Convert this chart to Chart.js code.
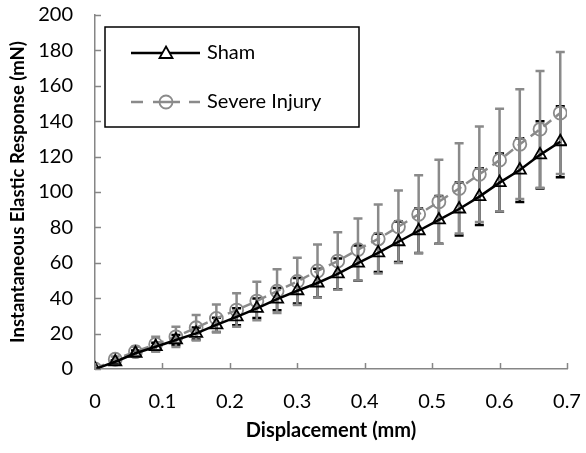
<!DOCTYPE html>
<html>
<head>
<meta charset="utf-8">
<script src="https://cdn.jsdelivr.net/npm/chart.js@4.4.0/dist/chart.umd.min.js"></script>
<style>
html,body{margin:0;padding:0;background:#fff;}
#wrap{width:586px;height:453px;position:relative;}
</style>
</head>
<body>
<div id="wrap"><canvas id="c" width="586" height="453"></canvas></div>
<script>
const displacement = [0,0.03,0.06,0.09,0.12,0.15,0.18,0.21,0.24,0.27,0.30,0.33,0.36,0.39,0.42,0.45,0.48,0.51,0.54,0.57,0.60,0.63,0.66,0.69];
const shamMean = [0,4.1,8.9,12.6,16.4,20.1,24.9,29.5,34.3,39.5,44.2,48.6,53.7,59.8,65.6,71.9,78.1,84.2,90.4,97.4,105.3,112.4,121,128.4];
const shamSD   = [0,0.8,1.5,2.2,2.8,3.4,4.0,4.8,5.5,6.3,7.2,8.1,8.7,10,10.8,11.4,12.6,13.5,15,16,16.5,18,19,20];
const severeMean = [0,5.5,9.8,14,18.2,23.3,28.6,33.3,38.4,44,49.5,55.4,61,67.5,73.5,80.4,87.4,94.5,102,110,118,127,135.4,144.6];
const severeSD   = [0,1.5,2.8,4.2,5.7,7.2,7.9,9.5,10.9,12.3,13.4,15,16.2,17.5,19.5,20.5,22,23.7,25.5,27,29,31,33,34.5];
const xTicks = [0,0.1,0.2,0.3,0.4,0.5,0.6,0.7];
const yTicks = [0,20,40,60,80,100,120,140,160,180,200];
const seriesNames = ['Sham','Severe Injury'];

const GRAY = '#8a8a8a';
const AXIS = '#868686';
const FONT = 'Lato, "Open Sans", sans-serif';

const toPts = (xs, ys) => xs.map((x,i)=>({x:x,y:ys[i]}));

const errorBars = {
  id:'errorBars',
  beforeDatasetsDraw(chart){
    const ctx = chart.ctx, xs = chart.scales.x, ys = chart.scales.y;
    const sets = [[shamMean, shamSD, '#000000'],[severeMean, severeSD, GRAY]];
    ctx.save();
    ctx.lineWidth = 2.5;
    sets.forEach(([m,sd,col])=>{
      ctx.strokeStyle = col;
      displacement.forEach((d,i)=>{
        if(!sd[i]) return;
        const px = xs.getPixelForValue(d);
        const top = ys.getPixelForValue(m[i]+sd[i]);
        const bot = ys.getPixelForValue(m[i]-sd[i]);
        ctx.beginPath();
        ctx.moveTo(px, top); ctx.lineTo(px, bot);
        ctx.moveTo(px-4.5, top); ctx.lineTo(px+4.5, top);
        ctx.moveTo(px-4.5, bot); ctx.lineTo(px+4.5, bot);
        ctx.stroke();
      });
    });
    ctx.restore();
  }
};

const axisTicks = {
  id:'axisTicks',
  afterDraw(chart){
    const ctx = chart.ctx, xs = chart.scales.x, ys = chart.scales.y;
    const area = chart.chartArea;
    ctx.save();
    ctx.strokeStyle = AXIS; ctx.lineWidth = 1.5;
    ctx.beginPath();
    yTicks.forEach(v=>{ const p = Math.round(ys.getPixelForValue(v))+0.5; ctx.moveTo(area.left, p); ctx.lineTo(area.left+6, p); });
    xTicks.forEach(v=>{ const p = Math.round(xs.getPixelForValue(v))+0.5; ctx.moveTo(p, area.bottom); ctx.lineTo(p, area.bottom-6); });
    ctx.stroke();
    // legend
    const L=105, T=27, R=359, B=127;
    ctx.fillStyle='#fff'; ctx.fillRect(L,T,R-L,B-T);
    ctx.strokeStyle='#000'; ctx.lineWidth=1.5; ctx.strokeRect(L,T,R-L,B-T);
    const y1 = 53, y2 = 102;
    ctx.strokeStyle='#000'; ctx.lineWidth=2.5;
    ctx.beginPath(); ctx.moveTo(131,y1); ctx.lineTo(200,y1); ctx.stroke();
    ctx.lineWidth=1.8; ctx.fillStyle='#fff';
    ctx.beginPath(); ctx.moveTo(166,y1-6.5); ctx.lineTo(172.5,y1+5); ctx.lineTo(159.5,y1+5); ctx.closePath(); ctx.fill(); ctx.stroke();
    ctx.strokeStyle=GRAY; ctx.lineWidth=2.5;
    ctx.beginPath(); ctx.moveTo(131,y2); ctx.lineTo(143,y2); ctx.moveTo(153,y2); ctx.lineTo(180,y2); ctx.moveTo(189,y2); ctx.lineTo(200,y2); ctx.stroke();
    ctx.lineWidth=1.8;
    ctx.beginPath(); ctx.arc(166,y2,6.5,0,Math.PI*2); ctx.stroke();
    ctx.fillStyle='#000'; ctx.font='20px '+FONT; ctx.textBaseline='middle'; ctx.textAlign='left';
    ctx.fillText(seriesNames[0], 207, y1);
    ctx.fillText(seriesNames[1], 207, y2);
    ctx.restore();
  }
};

new Chart(document.getElementById('c'), {
  type:'scatter',
  data:{
    datasets:[
      {label:seriesNames[0], data:toPts(displacement, shamMean), showLine:true,
       borderColor:'#000', borderWidth:2.5, pointStyle:'triangle', pointRadius:7,
       pointBorderColor:'#000', pointBackgroundColor:'rgba(0,0,0,0)', pointBorderWidth:1.8},
      {label:seriesNames[1], data:toPts(displacement, severeMean), showLine:true,
       borderColor:GRAY, borderWidth:2.5, borderDash:[10,6], pointStyle:'circle', pointRadius:6.5,
       pointBorderColor:GRAY, pointBackgroundColor:'rgba(0,0,0,0)', pointBorderWidth:1.8}
    ]
  },
  options:{
    responsive:false, animation:false, devicePixelRatio:1,
    layout:{padding:{top:15,right:19,bottom:0,left:0}},
    plugins:{legend:{display:false}, tooltip:{enabled:false}},
    scales:{
      x:{type:'linear', min:0, max:0.7,
        afterBuildTicks(s){ s.ticks = xTicks.map(v=>({value:v})); },
        afterFit(s){ s.height = 84; s.paddingLeft = 0; s.paddingRight = 0; },
        grid:{display:true, drawOnChartArea:false, drawTicks:false},
        border:{display:true, color:AXIS, width:1.5},
        ticks:{color:'#000', font:{family:FONT, size:20}, padding:21, maxRotation:0,
          callback:(v)=>String(v)},
        title:{display:true, text:'Displacement (mm)', color:'#000', font:{family:FONT, size:20, weight:'bold'}, padding:{top:0,bottom:10}}
      },
      y:{type:'linear', min:0, max:200,
        afterBuildTicks(s){ s.ticks = yTicks.map(v=>({value:v})); },
        afterFit(s){ s.width = 95; s.paddingTop = 0; s.paddingBottom = 0; },
        grid:{display:true, drawOnChartArea:false, drawTicks:false},
        border:{display:true, color:AXIS, width:1.5},
        ticks:{color:'#000', font:{family:FONT, size:20}, padding:22},
        title:{display:true, text:'Instantaneous Elastic Response (mN)', color:'#000', font:{family:FONT, size:18.5, weight:'bold'}, padding:{top:7,bottom:0}}
      }
    }
  },
  plugins:[errorBars, axisTicks]
});
</script>
</body>
</html>
